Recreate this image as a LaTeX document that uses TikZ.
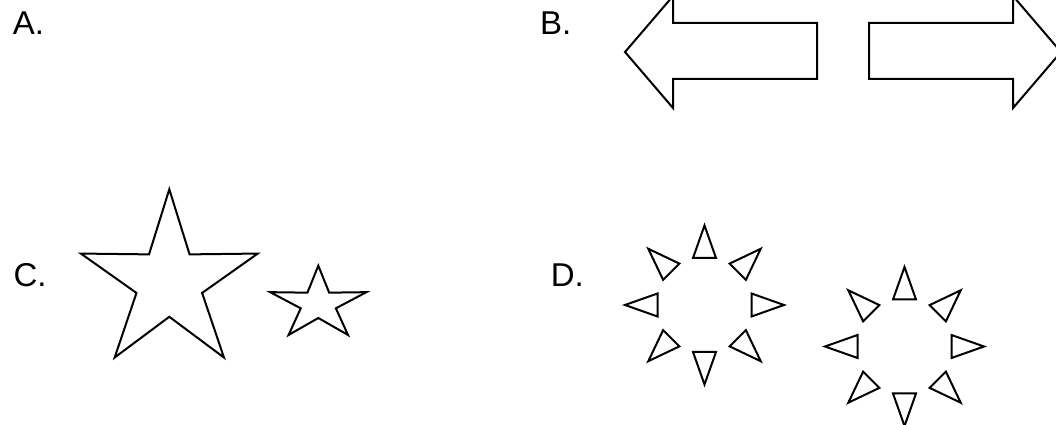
\documentclass[tikz,border=0pt]{standalone}
\usepackage{fontspec}
\setsansfont{Liberation Sans}
\tikzset{every picture/.style={/utils/exec={\sffamily}}}
\usetikzlibrary{calc}
\usetikzlibrary{positioning}

\tikzset{
  outline/.style={draw, line width=2pt, line join=miter},
  letter/.style={anchor=base west, inner sep=0pt, font=\fontsize{33}{39}\selectfont}
}

\begin{document}
\begin{tikzpicture}[x=1pt, y=1pt]
  \clip (0,0) rectangle (1056,425);

  \node [letter] (labA) at (12.7,390) {A.};
  \node [letter] (labB) at (540,390) {B.};
  \node [letter] (labC) at (13.3,138) {C.};
  \node [letter] (labD) at (550.7,138.3) {D.};

  % B: two block arrows
  \draw [outline] (625,373) -- (673,429) -- (673,402) -- (817,402) -- (817,346) -- (673,346) -- (673,317) -- cycle;
  \draw [outline] (1061,373) -- (1013,317) -- (1013,346) -- (869,346) -- (869,402) -- (1013,402) -- (1013,429) -- cycle;

  % C: two stars
  \draw [outline, shift={(169.3,142.7)}] (90:93)
    \foreach \a in {126,198,270,342,54} { -- (\a:34.5) -- (\a+36:93) } -- cycle;
  \draw [outline, shift={(318.3,121)}, xscale=1.32] (90:38.3)
    \foreach \a in {126,198,270,342,54} { -- (\a:14) -- (\a+36:38.3) } -- cycle;

  % D: two rings of triangles
  \foreach \cx/\cy in {704.5/120, 904.5/78.5} {
    \begin{scope}[shift={(\cx,\cy)}]
      \foreach \a in {0,45,...,315}
        \draw [outline, rotate=\a] (79.5,0) -- (47,11.5) -- (47,-11.5) -- cycle;
    \end{scope}
  }
\end{tikzpicture}
\end{document}
